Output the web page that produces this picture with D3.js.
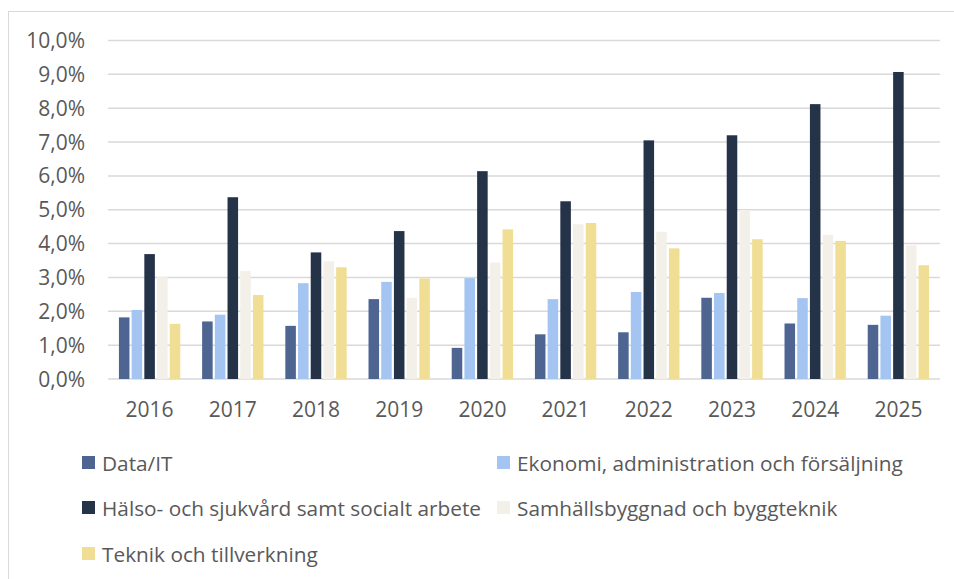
<!DOCTYPE html>
<html>
<head>
<meta charset="utf-8">
<script src="https://cdn.jsdelivr.net/npm/d3@7"></script>
<style>
  html, body { margin: 0; padding: 0; background: #fff; }
  svg { display: block; }
</style>
</head>
<body>
<div id="chart"></div>
<script>
// Data (procent per år och område)
const years = ["2016", "2017", "2018", "2019", "2020", "2021", "2022", "2023", "2024", "2025"];
const seriesNames = [
    "Data/IT",
    "Ekonomi, administration och försäljning",
    "Hälso- och sjukvård samt socialt arbete",
    "Samhällsbyggnad och byggteknik",
    "Teknik och tillverkning"
];
const dataIT     = [1.82, 1.70, 1.57, 2.36, 0.92, 1.32, 1.38, 2.40, 1.64, 1.60];
const ekonomi    = [2.04, 1.90, 2.83, 2.87, 2.98, 2.36, 2.57, 2.54, 2.39, 1.87];
const halso      = [3.69, 5.37, 3.74, 4.37, 6.14, 5.25, 7.05, 7.20, 8.12, 9.07];
const samhall    = [3.01, 3.19, 3.48, 2.40, 3.44, 4.57, 4.35, 4.99, 4.26, 3.95];
const teknik     = [1.63, 2.48, 3.30, 2.97, 4.42, 4.61, 3.86, 4.13, 4.08, 3.36];
const yTicks = [0, 1, 2, 3, 4, 5, 6, 7, 8, 9, 10];

const seriesValues = [dataIT, ekonomi, halso, samhall, teknik];
const colors = ["#4D6590", "#A4C5F1", "#243348", "#F3F0E9", "#F0DE94"];

const width = 954;
const height = 579;
const font = "'Open Sans', 'Noto Sans', sans-serif";
const textColor = "#595959";

const svg = d3.select("#chart")
    .append("svg")
    .attr("width", width)
    .attr("height", height);

// ram runt diagrammet
svg.append("rect")
    .attr("x", 8.5)
    .attr("y", 11.5)
    .attr("width", 980)
    .attr("height", 620)
    .attr("fill", "none")
    .attr("stroke", "#D9D9D9")
    .attr("stroke-width", 1);

const x = d3.scaleBand().domain(years).range([108, 940]);
const xInner = d3.scaleBand()
    .domain(d3.range(seriesNames.length))
    .range([0, x.bandwidth()])
    .paddingInner(0.17)
    .paddingOuter(0.86);
const y = d3.scaleLinear().domain([0, 10]).range([379, 40.5]);

// rutnät
svg.append("g")
    .selectAll("line")
    .data(yTicks)
    .join("line")
    .attr("x1", 108)
    .attr("x2", 940)
    .attr("y1", d => y(d))
    .attr("y2", d => y(d))
    .attr("stroke", "#D9D9D9")
    .attr("stroke-width", 1.5);

// y-axelns etiketter
svg.append("g")
    .selectAll("text")
    .data(yTicks)
    .join("text")
    .attr("x", 85)
    .attr("y", d => y(d))
    .attr("dy", "0.36em")
    .attr("text-anchor", "end")
    .attr("font-family", font)
    .attr("font-size", "21px")
    .attr("fill", textColor)
    .text(d => d.toFixed(1).replace(".", ",") + "%");

// staplar
const groups = svg.append("g")
    .selectAll("g")
    .data(years)
    .join("g")
    .attr("transform", d => `translate(${x(d)},0)`);

groups.selectAll("rect")
    .data((d, i) => seriesValues.map((vals, s) => ({ s: s, v: vals[i] })))
    .join("rect")
    .attr("x", d => xInner(d.s))
    .attr("width", xInner.bandwidth())
    .attr("y", d => y(d.v))
    .attr("height", d => y(0) - y(d.v))
    .attr("fill", d => colors[d.s]);

// x-axelns etiketter
svg.append("g")
    .selectAll("text")
    .data(years)
    .join("text")
    .attr("x", d => x(d) + x.bandwidth() / 2)
    .attr("y", 417)
    .attr("text-anchor", "middle")
    .attr("font-family", font)
    .attr("font-size", "21px")
    .attr("fill", textColor)
    .text(d => d);

// förklaring
const legendPos = [
    [82, 463], [497, 463],
    [82, 508], [497, 508],
    [82, 554]
];
const legend = svg.append("g")
    .selectAll("g")
    .data(seriesNames)
    .join("g")
    .attr("transform", (d, i) => `translate(${legendPos[i][0]},${legendPos[i][1]})`);

legend.append("rect")
    .attr("x", 0)
    .attr("y", -7)
    .attr("width", 13)
    .attr("height", 13)
    .attr("fill", (d, i) => colors[i]);

legend.append("text")
    .attr("x", 20)
    .attr("y", 0)
    .attr("dy", "0.36em")
    .attr("font-family", font)
    .attr("font-size", "20.8px")
    .attr("fill", textColor)
    .text(d => d);
</script>
</body>
</html>
